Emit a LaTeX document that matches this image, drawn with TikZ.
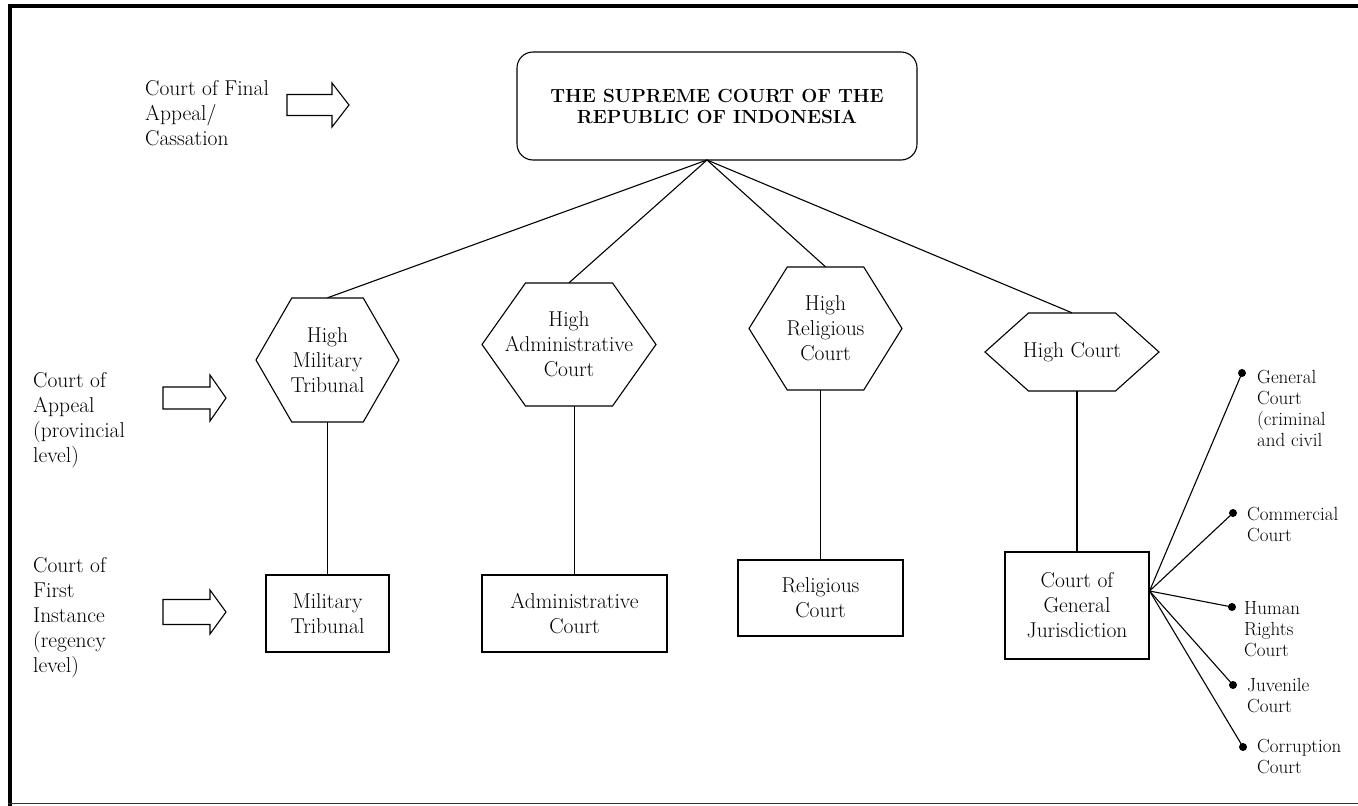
\documentclass[tikz,border=0pt]{standalone}
\usetikzlibrary{calc}
\newcommand{\hexagonpath}[3]{%
  \draw[ln] ([xshift=-#2]#1.center) -- ([xshift={-#2/2},yshift=#3]#1.center) -- ([xshift={#2/2},yshift=#3]#1.center) -- ([xshift=#2]#1.center) -- ([xshift={#2/2},yshift=-#3]#1.center) -- ([xshift={-#2/2},yshift=-#3]#1.center) -- cycle;}
\newcommand{\blockarrowpath}[6]{%
  \draw[ln] (#1,{#4-#5}) -- (#2,{#4-#5}) -- (#2,{#4-#6}) -- (#3,#4) -- (#2,{#4+#6}) -- (#2,{#4+#5}) -- (#1,{#4+#5}) -- cycle;}
\begin{document}
\begin{tikzpicture}[x=1pt,y=-1pt,
  every node/.style={font=\fontsize{21.5}{25}\selectfont},
  ln/.style={line width=1.1pt},
  hexnode/.style={inner sep=0pt, align=center},
  box/.style={draw, line width=1.1pt, align=center, inner sep=0pt},
  lbl/.style={anchor=north west, align=left, inner sep=0pt},
  small/.style={anchor=north west, align=left, inner sep=0pt, font=\fontsize{19}{21}\selectfont},
  dot/.style={circle, fill=black, inner sep=0pt, minimum size=8pt}
]
\useasboundingbox (0,0) rectangle (1358,806);
% frame
\draw[line width=4pt] (8,6) -- (1358,6);
\draw[line width=4pt] (10,4) -- (10,806);
\draw[line width=1.5pt, black!80] (8,803.5) -- (1358,803.5);

% left labels and arrows
\node[lbl] (l1) at (145,80) {Court of Final\\Appeal/\\Cassation};
\node[lbl] (l2) at (33,372) {Court of\\Appeal\\(provincial\\level)};
\node[lbl] (l3) at (33,557) {Court of\\First\\Instance\\(regency\\level)};
\blockarrowpath{287}{332}{349}{105}{10.5}{22}
\blockarrowpath{163}{210}{226}{398}{11}{23}
\blockarrowpath{163}{210}{226}{612}{12.5}{22}

% supreme court
\node[draw, ln, rounded corners=16pt, minimum width=400pt, minimum height=108pt, inner sep=0pt, align=center,
  font=\bfseries\fontsize{19}{21}\selectfont] (sc) at (717,106) {THE SUPREME COURT OF THE\\REPUBLIC OF INDONESIA};
\coordinate (apex) at (707,160);

% high courts
\node[hexnode, minimum width=143pt, minimum height=124pt] (hm) at (327.5,360) {High\\Military\\Tribunal};
\hexagonpath{hm}{71.5pt}{62pt}
\node[hexnode, minimum width=174pt, minimum height=123pt] (ha) at (569,344.5) {High\\Administrative\\Court};
\hexagonpath{ha}{87pt}{61.5pt}
\node[hexnode, minimum width=153pt, minimum height=123pt] (hr) at (825.5,328.5) {High\\Religious\\Court};
\hexagonpath{hr}{76.5pt}{61.5pt}
\node[hexnode, minimum width=174pt, minimum height=78pt] (hc) at (1072,352) {High Court};
\hexagonpath{hc}{87pt}{39pt}

\draw[ln] (apex) -- (hm.north);
\draw[ln] (apex) -- (ha.north);
\draw[ln] (apex) -- (hr.north);
\draw[ln] (apex) -- (hc.north);

% first instance courts
\node[box, minimum width=123pt, minimum height=77pt] (mt) at (327.5,613.5) {Military\\Tribunal};
\node[box, minimum width=185pt, minimum height=77pt] (ac) at (574.5,613.5) {Administrative\\Court};
\node[box, minimum width=165pt, minimum height=76pt] (rc) at (820.5,598) {Religious\\Court};
\node[box, minimum width=144pt, minimum height=107pt] (cg) at (1077,605.5) {Court of\\General\\Jurisdiction};

\draw[ln] (mt.north |- hm.south) -- (mt.north);
\draw[ln] (ac.north |- ha.south) -- (ac.north);
\draw[ln] (rc.north |- hr.south) -- (rc.north);
\draw[ln] (cg.north |- hc.south) -- (cg.north);

% special courts
\coordinate (fan) at ([yshift=14.5pt]cg.east);
\node[dot] (d1) at (1242,373) {};
\node[dot] (d2) at (1233,513) {};
\node[dot] (d3) at (1232,607) {};
\node[dot] (d4) at (1233,685) {};
\node[dot] (d5) at (1243,747) {};
\foreach \d in {d1,d2,d3,d4,d5} \draw[ln] (fan) -- (\d.center);
\node[small] (t1) at (1257,370) {General\\Court\\(criminal\\and civil};
\node[small] (t2) at (1247,507) {Commercial\\Court};
\node[small] (t3) at (1244,601) {Human\\Rights\\Court};
\node[small] (t4) at (1247,678) {Juvenile\\Court};
\node[small] (t5) at (1257,739) {Corruption\\Court};
\end{tikzpicture}
\end{document}
